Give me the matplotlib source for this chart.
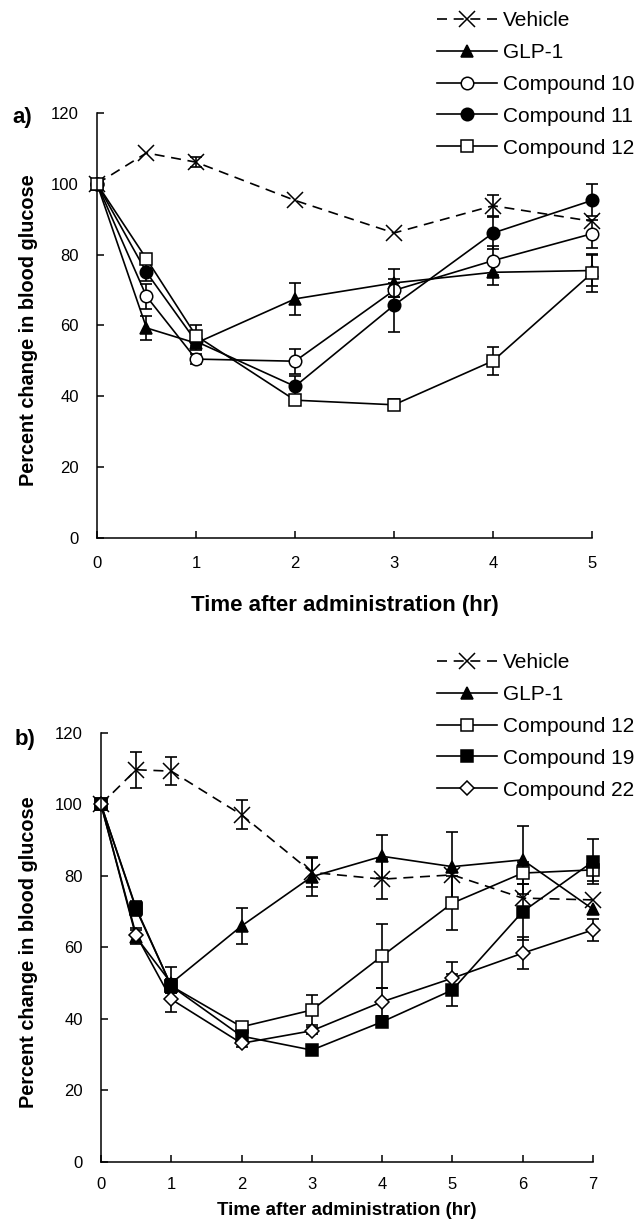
import matplotlib
matplotlib.use("Agg")
import matplotlib.pyplot as plt
from matplotlib.lines import Line2D

plt.rcParams['font.family'] = ['Liberation Sans', 'DejaVu Sans']

# panel a) data
t_a = [0, 0.5, 1, 2, 3, 4, 5]
veh_a = [100, 108.7, 106.1, 95.3, 86.1, 93.8, 89.4]
veh_a_err = [0, 0, 1.5, 0, 0, 3, 0]
glp_a = [100, 59.3, 55.0, 67.5, 72.0, 75.0, 75.5]
glp_a_err = [0, 3.5, 2, 4.5, 4, 3.5, 4.5]
c10_a = [100, 68.2, 50.5, 49.9, 69.9, 78.3, 85.9]
c10_a_err = [0, 3.5, 1.5, 3.5, 2, 4, 4]
c11_a = [100, 75.0, 55.5, 42.8, 65.7, 86.1, 95.3]
c11_a_err = [0, 2.5, 2, 3, 7.5, 4.5, 4.5]
c12_a = [100, 78.8, 57.1, 38.9, 37.6, 50.0, 74.8]
c12_a_err = [0, 1.5, 3, 1.5, 1.5, 4, 5.5]

# panel b) data
t_b = [0, 0.5, 1, 2, 3, 4, 5, 6, 7]
veh_b = [100, 109.7, 109.3, 97.1, 81.0, 79.1, 80.3, 73.8, 73.3]
veh_b_err = [0, 5, 4, 4, 4, 5.5, 0, 0, 0]
glp_b = [100, 62.9, 50.0, 66.0, 79.8, 85.5, 82.6, 84.5, 70.7]
glp_b_err = [0, 2, 4.4, 5, 5.5, 6, 9.6, 9.5, 0]
c12_b = [100, 71.0, 49.2, 37.8, 42.5, 57.6, 72.4, 80.8, 81.7]
c12_b_err = [0, 2, 2, 1, 4.2, 9, 7.5, 3, 3]
c19_b = [100, 70.7, 49.2, 35.2, 31.3, 39.2, 48.1, 70.0, 84.0]
c19_b_err = [0, 2, 2, 1, 1, 1.5, 4.5, 7.8, 6.3]
c22_b = [100, 63.5, 45.5, 33.2, 36.7, 44.8, 51.4, 58.4, 64.9]
c22_b_err = [0, 2, 3.5, 1, 1, 4, 4.5, 4.5, 3]

fig = plt.figure(figsize=(6.38, 12.26), dpi=100)

dash = (0, (6, 4))


def draw_series(ax, t, y, err, marker, fc, ls, ms):
    # error bars only where there is a visible error
    te = [ti for ti, e in zip(t, err) if e > 0]
    ye = [yi for yi, e in zip(y, err) if e > 0]
    ee = [e for e in err if e > 0]
    ax.errorbar(te, ye, yerr=ee, fmt='none', ecolor='black', elinewidth=1.2,
                capsize=4, capthick=1.2, clip_on=False)
    ax.plot(t, y, color='black', marker=marker, markersize=ms, markerfacecolor=fc,
            markeredgecolor='black', markeredgewidth=1.1, linestyle=ls,
            linewidth=1.2, clip_on=False)
    return Line2D([], [], color='black', marker=marker, markersize=ms, markerfacecolor=fc,
                  markeredgecolor='black', markeredgewidth=1.1, linestyle=ls, linewidth=1.2)


def style_axes(ax, xmax):
    ax.set_xlim(0, xmax)
    ax.set_ylim(0, 120)
    ax.set_yticks(range(0, 121, 20))
    ax.set_xticks(range(0, xmax + 1))
    ax.spines['top'].set_visible(False)
    ax.spines['right'].set_visible(False)
    ax.spines['left'].set_linewidth(1.1)
    ax.spines['bottom'].set_linewidth(1.1)
    ax.tick_params(direction='in', length=5, width=1.1, labelsize=12)
    ax.tick_params(axis='y', pad=13)
    ax.set_ylabel('Percent change in blood glucose', fontsize=14.3, fontweight='bold')


def add_legend(ax, handles, labels, top_px):
    ax.legend(handles, labels, loc='upper left', bbox_to_anchor=(437 / 638, 1 - top_px / 1226),
              bbox_transform=fig.transFigure, frameon=False, fontsize=15, handlelength=2.9,
              labelspacing=0.62, handletextpad=0.25, borderpad=0, borderaxespad=0)


# ---- panel a
ax1 = fig.add_axes([0.152, 0.5612, 0.776, 0.3467])
h = []
h.append(draw_series(ax1, t_a, veh_a, veh_a_err, 'x', 'none', dash, 11))
h.append(draw_series(ax1, t_a, glp_a, glp_a_err, '^', 'black', '-', 9))
h.append(draw_series(ax1, t_a, c10_a, c10_a_err, 'o', 'white', '-', 9))
h.append(draw_series(ax1, t_a, c11_a, c11_a_err, 'o', 'black', '-', 9))
h.append(draw_series(ax1, t_a, c12_a, c12_a_err, 's', 'white', '-', 9))
style_axes(ax1, 5)
ax1.tick_params(axis='x', pad=13)
ax1.set_xlabel('Time after administration (hr)', fontsize=16, fontweight='bold', labelpad=17)
ax1.yaxis.set_label_coords(-0.12, 0.49)
add_legend(ax1, h, ['Vehicle', 'GLP-1', 'Compound 10', 'Compound 11', 'Compound 12'], 11)
fig.text(12 / 638, 1 - 118 / 1226, 'a)', fontsize=16, fontweight='bold', ha='left', va='center')

# ---- panel b
ax2 = fig.add_axes([0.1583, 0.0522, 0.771, 0.350])
h = []
h.append(draw_series(ax2, t_b, veh_b, veh_b_err, 'x', 'none', dash, 11))
h.append(draw_series(ax2, t_b, glp_b, glp_b_err, '^', 'black', '-', 9))
h.append(draw_series(ax2, t_b, c12_b, c12_b_err, 's', 'white', '-', 9))
h.append(draw_series(ax2, t_b, c19_b, c19_b_err, 's', 'black', '-', 9))
h.append(draw_series(ax2, t_b, c22_b, c22_b_err, 'D', 'white', '-', 7.5))
style_axes(ax2, 7)
ax2.tick_params(axis='x', pad=11)
ax2.set_xlabel('Time after administration (hr)', fontsize=13.5, fontweight='bold', labelpad=7)
ax2.yaxis.set_label_coords(-0.128, 0.49)
add_legend(ax2, h, ['Vehicle', 'GLP-1', 'Compound 12', 'Compound 19', 'Compound 22'], 653)
fig.text(15 / 638, 1 - 739 / 1226, 'b)', fontsize=16, fontweight='bold', ha='left', va='center')

fig.savefig('out.png', dpi=100)
